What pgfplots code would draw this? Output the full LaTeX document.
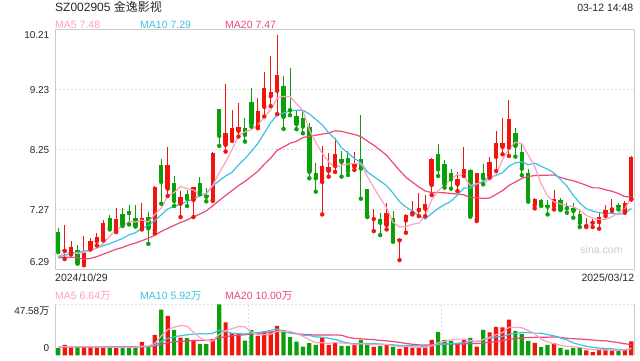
\documentclass[border=0pt]{standalone}
\usepackage{pgfplots}
\usepackage{pgfplotstable}
\pgfplotsset{compat=1.18}
\usepackage{fontspec}
\setmainfont{Liberation Sans}
\newfontfamily\cjk{Noto Sans CJK SC}
\definecolor{kred}{RGB}{240,22,14}
\definecolor{kgreen}{RGB}{10,160,10}
\definecolor{ma5c}{RGB}{255,160,190}
\definecolor{ma10c}{RGB}{60,195,228}
\definecolor{ma20c}{RGB}{236,72,125}
\definecolor{gridc}{RGB}{222,222,222}
\definecolor{borderc}{RGB}{204,204,204}
\definecolor{txt}{RGB}{40,40,40}
\definecolor{wm}{RGB}{205,205,205}

\pgfplotstableread{
i o h l c v
1 6.595 7.01 6.46 6.61 9.7
2 6.56 6.75 6.535 6.655 7.5
4 6.40 6.835 6.36 6.58 8.1
5 6.633 6.807 6.617 6.753 7.5
6 6.753 6.878 6.682 6.818 7.5
7 6.775 7.09 6.764 7.041 7.8
9 6.93 7.297 6.90 7.12 7.8
13 6.965 7.377 6.943 7.134 12.5
15 6.927 7.651 6.878 7.635 19.1
17 7.608 8.288 7.488 7.989 36.9
19 7.363 7.575 7.145 7.466 16.6
21 7.423 7.640 7.145 7.629 14.4
24 7.423 8.201 7.406 8.185 15.0
26 8.321 9.312 8.212 8.511 30.7
27 8.403 8.887 8.386 8.593 20.6
28 8.550 9.012 8.457 8.609 20.0
31 8.615 9.078 8.593 8.876 18.1
32 8.941 9.513 8.784 9.246 20.6
33 9.116 9.764 8.952 9.181 22.2
34 9.203 10.112 8.822 9.459 27.5
41 7.717 8.305 7.188 7.978 16.6
42 7.896 8.185 7.804 7.962 9.7
43 7.978 8.441 7.880 8.168 12.2
46 7.967 8.206 7.913 8.016 9.7
49 7.112 7.270 6.916 7.123 7.8
51 7.014 7.379 6.943 7.205 10.3
53 6.764 6.807 6.443 6.775 5.9
54 7.090 7.188 6.889 7.172 8.8
55 7.210 7.406 7.188 7.226 7.2
56 7.254 7.542 7.161 7.287 7.2
57 7.281 7.504 7.161 7.352 7.5
58 7.668 8.103 7.504 8.087 14.4
62 7.678 7.880 7.569 7.760 11.3
63 7.869 8.288 7.814 7.923 14.4
65 7.107 7.869 7.079 7.858 8.1
67 7.814 8.130 7.787 8.049 21.3
68 8.125 8.550 7.896 8.348 26.6
69 8.288 8.767 8.168 8.348 26.0
70 8.277 9.050 8.141 8.751 33.2
74 7.341 7.461 7.286 7.433 11.6
77 7.325 7.580 7.270 7.444 11.3
82 6.998 7.134 6.982 7.009 4.6
83 7.052 7.107 6.982 7.063 3.0
84 7.063 7.216 6.954 7.150 5.0
85 7.199 7.341 7.161 7.254 5.5
86 7.270 7.433 7.243 7.287 5.3
88 7.243 7.406 7.216 7.379 5.0
89 7.433 8.141 7.433 8.125 13.0
}\redtab

\pgfplotstableread{
i o h l c v
0 6.894 6.96 6.573 6.60 6.6
3 6.60 6.682 6.385 6.394 8.1
8 7.134 7.172 6.943 6.97 7.2
10 7.188 7.297 7.00 7.02 7.5
11 7.243 7.34 7.025 7.21 7.5
12 7.137 7.343 6.99 7.00 7.2
14 7.15 7.227 6.709 6.96 8.8
16 7.989 8.087 7.363 7.717 42.5
18 7.706 7.815 7.325 7.406 23.8
20 7.521 7.586 7.325 7.444 16.0
22 7.706 7.793 7.515 7.559 10.6
23 7.510 7.624 7.401 7.477 10.6
25 8.903 8.91 8.305 8.468 47.58
29 8.593 8.767 8.375 8.484 13.8
30 9.018 9.246 8.620 8.658 23.8
35 9.279 9.448 8.582 8.778 23.8
36 8.903 9.573 8.805 8.887 16.9
37 8.784 8.876 8.577 8.658 12.8
38 8.767 8.887 8.511 8.620 8.1
39 8.620 8.686 7.777 7.880 11.3
40 7.858 8.032 7.559 7.777 9.7
44 8.087 8.223 7.804 8.043 8.8
45 8.103 8.223 7.831 7.896 8.8
47 8.087 8.805 7.444 7.934 14.4
48 7.597 7.607 7.145 7.161 9.7
50 7.107 7.216 6.851 7.052 8.8
52 7.134 7.243 6.742 6.753 7.8
59 8.168 8.332 7.814 7.923 21.9
60 8.005 8.070 7.624 7.678 14.4
61 7.869 7.934 7.608 7.760 13.5
64 7.907 7.934 7.150 7.161 16.3
66 7.869 8.005 7.678 7.777 23.8
71 8.522 8.604 8.130 8.305 22.8
72 8.212 8.332 7.826 7.934 20.0
73 7.869 7.934 7.395 7.433 13.5
75 7.417 7.433 7.325 7.341 7.8
76 7.341 7.423 7.188 7.314 9.7
78 7.417 7.461 7.259 7.270 6.9
79 7.308 7.368 7.216 7.287 5.3
80 7.287 7.368 7.134 7.243 6.6
81 7.188 7.243 6.982 7.052 6.9
87 7.335 7.368 7.270 7.314 4.5
}\greentab

\pgfplotstableread{
i ma5 ma10 ma20 vma5 vma10 vma20
0 6.50 6.49 6.48 8.00 7.90 8.00
1 6.56 6.52 6.49 8.00 7.90 8.00
2 6.58 6.55 6.49 8.00 7.90 8.00
3 6.55 6.57 6.48 8.00 7.90 8.00
4 6.568 6.59 6.46 8.00 7.90 8.00
5 6.598 6.60 6.47 8.18 7.90 8.00
6 6.640 6.64 6.50 7.74 7.90 8.00
7 6.716 6.68 6.54 7.80 7.90 8.00
8 6.832 6.71 6.58 7.62 7.85 8.00
9 6.940 6.754 6.62 7.56 7.78 8.00
10 6.994 6.796 6.65 7.56 7.87 7.95
11 7.072 6.856 6.69 7.56 7.65 7.95
12 7.064 6.890 6.72 7.44 7.62 7.95
13 7.096 6.964 6.76 8.50 8.06 8.00
14 7.064 7.002 6.80 8.70 8.13 8.07
15 7.188 7.091 6.85 11.02 9.29 8.62
16 7.290 7.181 6.91 18.02 12.79 10.35
17 7.488 7.276 6.96 23.96 15.70 11.79
18 7.544 7.320 7.01 26.22 17.36 12.58
19 7.646 7.355 7.055 27.78 18.24 13.01
20 7.606 7.397 7.097 27.16 19.09 13.48
21 7.588 7.439 7.148 21.54 19.78 13.72
22 7.502 7.495 7.193 16.28 20.12 13.87
23 7.516 7.530 7.247 13.64 19.93 14.00
24 7.660 7.653 7.328 13.32 20.55 14.34
25 7.866 7.736 7.414 19.64 23.40 16.34
26 8.042 7.815 7.498 22.90 22.22 17.50
27 8.248 7.875 7.576 24.90 20.59 18.14
28 8.474 7.995 7.658 26.78 20.21 18.78
29 8.532 8.096 7.726 26.54 19.93 19.08
30 8.570 8.218 7.808 21.78 20.71 19.90
31 8.644 8.343 7.891 19.26 21.08 20.43
32 8.776 8.512 8.004 19.26 22.08 21.10
33 8.890 8.682 8.106 19.70 23.24 21.58
34 9.086 8.809 8.231 22.44 24.49 22.52
35 9.110 8.840 8.288 22.44 22.11 22.75
36 9.112 8.878 8.347 22.20 20.73 21.47
37 8.994 8.885 8.380 20.64 19.95 20.27
38 8.882 8.886 8.441 17.82 18.76 19.48
39 8.566 8.826 8.461 14.58 18.51 19.22
40 8.366 8.738 8.478 11.76 17.10 18.90
41 8.184 8.648 8.496 11.70 16.95 19.01
42 8.044 8.519 8.516 11.08 15.86 18.97
43 7.954 8.418 8.550 11.90 14.86 19.05
44 7.986 8.276 8.543 11.40 12.99 18.74
45 8.010 8.188 8.514 11.22 11.49 16.80
46 8.018 8.101 8.490 9.84 10.77 15.75
47 8.012 8.028 8.457 10.78 10.93 15.44
48 7.810 7.882 8.384 10.28 11.09 14.93
49 7.626 7.806 8.316 10.08 10.74 14.63
50 7.456 7.733 8.236 10.08 10.65 13.88
51 7.294 7.656 8.152 10.20 10.02 13.49
52 7.058 7.535 8.027 8.88 9.83 12.85
53 6.982 7.396 7.907 8.12 9.20 12.03
54 6.992 7.309 7.793 8.32 9.20 11.10
55 7.028 7.242 7.715 8.00 9.04 10.27
56 7.044 7.169 7.635 7.38 8.79 9.78
57 7.164 7.111 7.570 7.32 8.10 9.52
58 7.426 7.204 7.543 9.02 8.57 9.83
59 7.576 7.284 7.545 11.64 9.98 10.36
60 7.666 7.347 7.540 13.08 10.54 10.60
61 7.760 7.402 7.529 14.34 10.86 10.44
62 7.842 7.503 7.519 15.10 11.21 10.52
63 7.808 7.617 7.507 15.10 12.06 10.63
64 7.656 7.616 7.463 13.98 12.81 11.01
65 7.692 7.679 7.461 12.72 12.90 10.97
66 7.696 7.728 7.449 14.78 14.56 11.68
67 7.754 7.798 7.455 16.78 15.94 12.02
68 7.840 7.824 7.514 19.22 17.16 12.87
69 8.078 7.867 7.576 21.16 17.57 13.78
70 8.256 7.974 7.661 26.18 19.45 15.00
71 8.362 8.029 7.716 25.98 20.38 15.62
72 8.338 8.046 7.775 25.72 21.25 16.23
73 8.154 7.997 7.807 23.10 21.16 16.61
74 7.970 8.024 7.820 20.22 20.69 16.75
75 7.688 7.972 7.826 15.14 20.66 16.78
76 7.488 7.925 7.827 12.52 19.25 16.91
77 7.390 7.864 7.831 10.78 18.25 17.10
78 7.358 7.756 7.790 9.46 16.28 16.72
79 7.330 7.650 7.759 8.20 14.21 15.89
80 7.310 7.499 7.737 7.96 11.55 15.50
81 7.258 7.373 7.701 7.40 9.96 15.17
82 7.172 7.281 7.664 6.06 8.42 14.84
83 7.130 7.244 7.621 5.28 7.37 14.27
84 7.102 7.216 7.620 5.22 6.71 13.70
85 7.104 7.207 7.590 5.00 6.48 13.57
86 7.152 7.205 7.565 4.68 6.04 12.65
87 7.212 7.192 7.528 4.66 5.36 11.81
88 7.276 7.203 7.480 5.06 5.17 10.73
89 7.472 7.287 7.469 6.66 5.94 10.08
}\matab

\newcommand\fs{\fontsize{10.5bp}{12.6bp}\selectfont}
\newcommand\fst{\fontsize{10bp}{12bp}\selectfont}

\begin{document}
\begin{tikzpicture}[x=1bp,y=1bp]
\useasboundingbox (0,0) rectangle (640,360);
\fill[white] (0,0) rectangle (640,360);

% ---------------- price panel ----------------
\begin{axis}[
  at={(55bp,90.5bp)}, anchor=south west,
  width=579.5bp, height=240.5bp, scale only axis,
  xmin=-0.5, xmax=89.5, ymin=6.29, ymax=10.21,
  clip=false,
  axis line style={draw=borderc, line width=0.9bp},
  xtick=\empty, ytick={7.27,8.25,9.23}, yticklabels={},
  major tick length=0pt,
  ymajorgrids,
  grid style={draw=gridc, dash pattern=on 2bp off 2bp, line width=1.1bp},
]
% red wicks and bodies
\addplot[only marks, mark=none, color=kred, forget plot,
  error bars/.cd, y dir=plus, y explicit, error mark=none,
  error bar style={draw=kred, line width=1bp, solid}]
  table[x=i, y=l, y error plus expr=\thisrow{h}-\thisrow{l}]{\redtab};
\addplot[only marks, mark=none, color=kred, forget plot,
  error bars/.cd, y dir=plus, y explicit, error mark=none,
  error bar style={draw=kred, line width=4.4bp, solid}]
  table[x=i, y expr={min(\thisrow{o},\thisrow{c})},
        y error plus expr={max(abs(\thisrow{c}-\thisrow{o}),0.016)}]{\redtab};
% green wicks and bodies
\addplot[only marks, mark=none, color=kgreen, forget plot,
  error bars/.cd, y dir=plus, y explicit, error mark=none,
  error bar style={draw=kgreen, line width=1bp, solid}]
  table[x=i, y=l, y error plus expr=\thisrow{h}-\thisrow{l}]{\greentab};
\addplot[only marks, mark=none, color=kgreen, forget plot,
  error bars/.cd, y dir=plus, y explicit, error mark=none,
  error bar style={draw=kgreen, line width=4.4bp, solid}]
  table[x=i, y expr={min(\thisrow{o},\thisrow{c})},
        y error plus expr={max(abs(\thisrow{c}-\thisrow{o}),0.016)}]{\greentab};
% moving averages
\addplot[ma20c, line width=1.2bp, mark=none] table[x=i, y=ma20]{\matab};
\addplot[ma10c, line width=1.2bp, mark=none] table[x=i, y=ma10]{\matab};
\addplot[ma5c, line width=1.2bp, mark=none] table[x=i, y=ma5]{\matab};
\end{axis}

% ---------------- volume panel ----------------
\begin{axis}[
  at={(55bp,4.7bp)}, anchor=south west,
  width=579.5bp, height=51bp, scale only axis,
  xmin=-0.5, xmax=89.5, ymin=0, ymax=47.58,
  clip=false,
  axis line style={draw=none},
  xtick={29.5,59.5}, xticklabels={}, ytick={47.58}, yticklabels={},
  major tick length=0pt,
  xmajorgrids, ymajorgrids,
  grid style={draw=gridc, dash pattern=on 2bp off 2bp, line width=1.1bp},
]
\draw[borderc, line width=0.9bp] (rel axis cs:0,0) -- (rel axis cs:0,1);
\draw[borderc, line width=0.9bp] (rel axis cs:1,0) -- (rel axis cs:1,1);
\addplot[ybar, bar width=4.2bp, bar shift=0pt, fill=kred, draw=none] table[x=i, y=v]{\redtab};
\addplot[ybar, bar width=4.2bp, bar shift=0pt, fill=kgreen, draw=none] table[x=i, y=v]{\greentab};
\addplot[ma20c, line width=1.2bp, mark=none] table[x=i, y=vma20]{\matab};
\addplot[ma10c, line width=1.2bp, mark=none] table[x=i, y=vma10]{\matab};
\addplot[ma5c, line width=1.2bp, mark=none] table[x=i, y=vma5]{\matab};
\end{axis}

% ---------------- texts ----------------
\node[anchor=base west, inner sep=0, text=txt, font=\fontsize{12bp}{14bp}\selectfont] at (55,348.3) {SZ002905 {\cjk 金逸影视}};
\node[anchor=base east, inner sep=0, text=txt, font=\fs] at (633.5,349) {03-12 14:48};
\node[anchor=base west, inner sep=0, text=ma5c, font=\fs] at (55,331.7) {MA5 7.48};
\node[anchor=base west, inner sep=0, text=ma10c, font=\fs] at (140,331.7) {MA10 7.29};
\node[anchor=base west, inner sep=0, text=ma20c, font=\fs] at (225,331.7) {MA20 7.47};

\node[anchor=east, inner sep=0, text=txt, font=\fst] at (49.5,325) {10.21};
\node[anchor=east, inner sep=0, text=txt, font=\fst] at (49.5,270) {9.23};
\node[anchor=east, inner sep=0, text=txt, font=\fst] at (49.5,210) {8.25};
\node[anchor=east, inner sep=0, text=txt, font=\fst] at (49.5,150) {7.27};
\node[anchor=east, inner sep=0, text=txt, font=\fst] at (49.5,98.3) {6.29};

\node[anchor=base west, inner sep=0, text=txt, font=\fs] at (55,78.3) {2024/10/29};
\node[anchor=base east, inner sep=0, text=txt, font=\fs] at (634.3,78.3) {2025/03/12};
\node[anchor=east, inner sep=0, text=wm, font=\fs] at (622.7,110.5) {sina.com};

\node[anchor=base west, inner sep=0, text=ma5c, font=\fs] at (55,61) {MA5 6.64{\cjk 万}};
\node[anchor=base west, inner sep=0, text=ma10c, font=\fs] at (140,61) {MA10 5.92{\cjk 万}};
\node[anchor=base west, inner sep=0, text=ma20c, font=\fs] at (225,61) {MA20 10.00{\cjk 万}};
\node[anchor=east, inner sep=0, text=txt, font=\fst] at (49.5,49) {47.58{\cjk 万}};
\node[anchor=east, inner sep=0, text=txt, font=\fst] at (49.5,11.7) {0};
\end{tikzpicture}
\end{document}
